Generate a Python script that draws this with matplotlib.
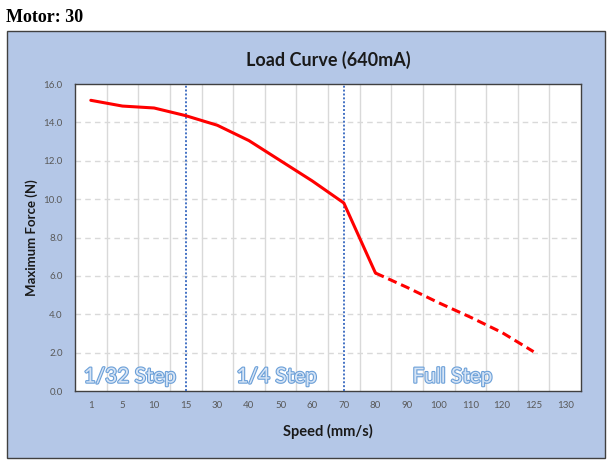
import matplotlib
matplotlib.use("Agg")
import matplotlib.pyplot as plt
import matplotlib.patheffects as pe
from matplotlib.patches import Rectangle

# chart data
speeds = ["1", "5", "10", "15", "30", "40", "50", "60", "70", "80",
          "90", "100", "110", "120", "125", "130"]
forces = [15.15, 14.85, 14.75, 14.35, 13.85, 13.05, 12.0, 10.95, 9.8, 6.15,
          5.4, 4.6, 3.85, 3.05, 2.05]
measured_until = "80"          # solid up to here, dashed after
step_changes = ["15", "70"]    # dotted blue markers
step_labels = ["1/32 Step", "1/4 Step", "Full Step"]
y_ticks = [0, 2, 4, 6, 8, 10, 12, 14, 16]

BG = "#B4C7E7"
SANS = ["Lato", "DejaVu Sans"]

fig = plt.figure(figsize=(6.12, 4.69), dpi=100)
fig.patches.append(Rectangle((7 / 612, 1 - 458 / 469), 598 / 612, 427 / 469,
                             transform=fig.transFigure, facecolor=BG,
                             edgecolor="#404040", linewidth=1.0, zorder=-1))

fig.text(6 / 612, 1 - 17 / 469, "Motor: 30", family=["Liberation Serif"],
         fontweight="bold", fontsize=13, va="center", ha="left")
fig.text(328 / 612, 1 - 60 / 469, "Load Curve (640mA)", family=SANS,
         fontweight="bold", fontsize=13, color="#1a1a1a", ha="center", va="center")

ax = fig.add_axes([75 / 612, 1 - 391 / 469, 506 / 612, 307 / 469])
ax.set_facecolor("white")

xpos = list(range(len(speeds)))
split = speeds.index(measured_until)
ax.plot(xpos[:split + 1], forces[:split + 1], color="#FF0000", lw=2.2,
        solid_capstyle="round", zorder=4)
ax.plot(xpos[split:len(forces)], forces[split:], color="#FF0000", lw=2.2,
        linestyle=(0, (3, 1.6)), zorder=4)

for s in step_changes:
    ax.axvline(speeds.index(s), color="#4472C4", lw=1.4, linestyle=(0, (1, 1)), zorder=3)

# grid: solid light verticals between categories, dashed horizontals
for b in range(1, len(speeds)):
    ax.axvline(b - 0.5, color="#D9D9D9", lw=1.0, zorder=1)
for t in y_ticks[1:-1]:
    ax.axhline(t, color="#D9D9D9", lw=1.0, linestyle=(0, (4, 3)), zorder=1)

ax.set_xlim(-0.5, len(speeds) - 0.5)
ax.set_ylim(0, 16)
ax.set_xticks(xpos)
ax.set_xticklabels(speeds)
ax.set_yticks(y_ticks)
ax.set_yticklabels([f"{t:.1f}" for t in y_ticks])
ax.tick_params(length=0, labelsize=7, colors="#595959")
ax.tick_params(axis="x", pad=7)
ax.tick_params(axis="y", pad=9)
for lab in ax.get_xticklabels() + ax.get_yticklabels():
    lab.set_family(SANS)
for sp in ax.spines.values():
    sp.set_color("#404040")
    sp.set_linewidth(1.0)

ax.set_xlabel("Speed (mm/s)", family=SANS, fontweight="bold", fontsize=10.5,
              color="#1a1a1a", labelpad=10)
ax.set_ylabel("Maximum Force (N)", family=SANS, fontweight="bold", fontsize=9.5,
              color="#1a1a1a", labelpad=4)

label_x = [1.24, 5.88, 11.44]
for x, txt in zip(label_x, step_labels):
    ax.text(x, 0.75, txt, family=SANS, fontsize=15, color="#D6E4F5",
            ha="center", va="center", zorder=5,
            path_effects=[pe.withStroke(linewidth=1.6, foreground="#6A9FD8")])

fig.savefig("out.png", dpi=100, facecolor="white")
